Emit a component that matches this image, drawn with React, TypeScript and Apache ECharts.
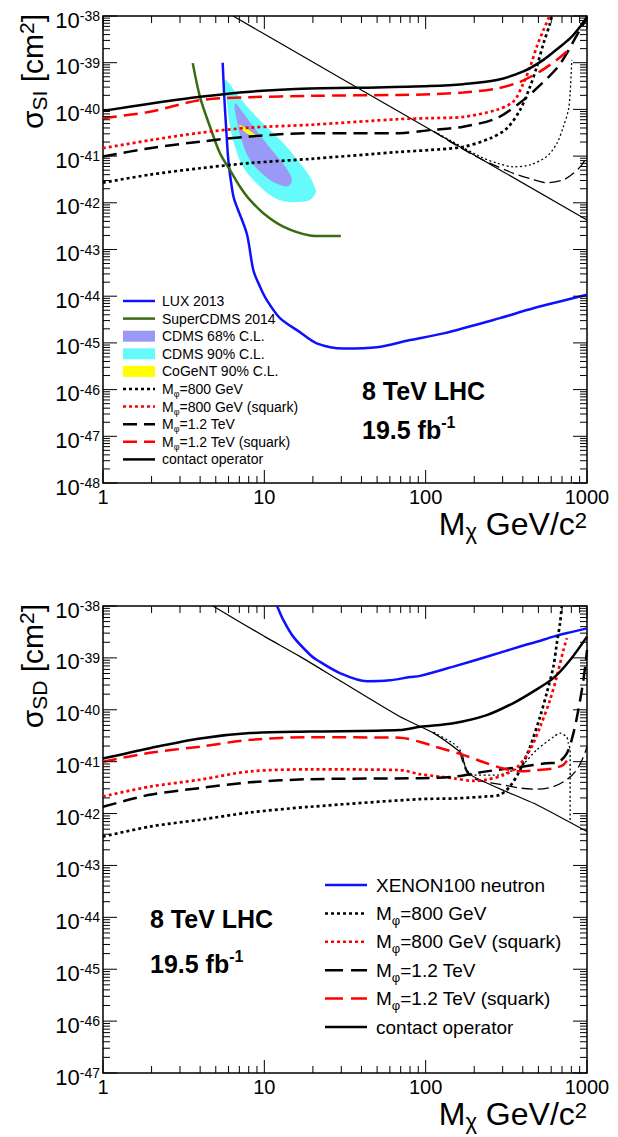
import { useEffect, useRef } from "react";
import * as echarts from "echarts";

type P = [number, number];

// ---------------- Spin-independent (top panel) ----------------
const SI_LUX: P[] = [[5.52,1.0e-39],[5.63,2.2e-40],[5.79,4.3e-41],[5.98,8.3e-42],[6.28,2.2e-42],[6.52,1.15e-42],[7.78,2.2e-43],[8.55,3.6e-44],[9.4,1.6e-44],[10.35,8.3e-45],[12.5,3.4e-45],[16.6,1.7e-45],[21.1,9.8e-46],[30.9,7.6e-46],[49.8,8.1e-46],[80,1.15e-45],[129,1.6e-45],[289,3.4e-45],[465,5.5e-45],[1000,1.07e-44]];
const SI_SCDMS: P[] = [[3.6,9.8e-40],[3.99,1.86e-40],[4.6,4.3e-41],[5.31,1.15e-41],[6.13,5.0e-42],[7.07,2.2e-42],[7.96,1.26e-42],[9.86,6.0e-43],[13.1,3.1e-43],[19.2,2.0e-43],[22.2,1.95e-43],[29.8,1.95e-43]];
const SI_CDMS90: P[] = [[5.71,4.3e-40],[5.85,1.58e-40],[6.13,4.3e-41],[6.58,1.58e-41],[7.38,5.9e-42],[8.97,2.6e-42],[11.3,1.35e-42],[13.8,1.05e-42],[16.6,1.05e-42],[19.2,1.15e-42],[20.9,1.7e-42],[20.6,2.1e-42],[19.2,3.55e-42],[16.6,7.1e-42],[13.1,1.9e-41],[10.3,4.3e-41],[8.15,9.8e-41],[6.74,2.2e-40]];
const SI_CDMS68: P[] = [[6.58,1.35e-40],[6.74,5.9e-41],[7.24,2.2e-41],[8.15,8.3e-42],[9.86,4.0e-42],[11.9,2.6e-42],[14.1,2.3e-42],[14.8,3.1e-42],[14.1,4.7e-42],[12.5,8.3e-42],[10.3,1.86e-41],[8.55,4.3e-41],[7.41,8.3e-41]];
const SI_COGENT: P[] = [[7.0,4.7e-41],[7.41,4.3e-41],[8.15,3.5e-41],[8.97,2.7e-41],[9.05,2.45e-41],[8.15,2.8e-41],[7.41,3.5e-41],[7.07,4.1e-41]];
const SI_CONTACT: P[] = [[1,9.3e-41],[1.95,1.32e-40],[4.0,1.86e-40],[8.15,2.4e-40],[19.2,2.8e-40],[50,2.95e-40],[106,3.16e-40],[171,3.47e-40],[276,4.27e-40],[403,6.5e-40],[537,1.15e-39],[681,2.2e-39],[785,3.3e-39],[906,5.9e-39],[1000,9.5e-39]];
const SI_M12_SQ: P[] = [[1,6.5e-41],[1.95,8.9e-41],[4.0,1.58e-40],[8.15,1.82e-40],[19.2,1.95e-40],[69,2.04e-40],[106,2.1e-40],[171,2.3e-40],[276,2.8e-40],[385,3.9e-40],[512,6.5e-40],[650,1.15e-39],[750,1.74e-39]];
const SI_M800_SQ: P[] = [[1,1.48e-41],[1.95,2.19e-41],[4.0,3.16e-41],[8.15,4.07e-41],[19.2,4.68e-41],[69,6.2e-41],[106,6.5e-41],[171,6.9e-41],[276,9.8e-41],[350,1.48e-40],[403,3.6e-40],[444,8.1e-40],[488,2.19e-39],[537,5.0e-39],[586,1.0e-38]];
const SI_M12: P[] = [[1,9.8e-42],[1.95,1.48e-41],[4.0,2.04e-41],[8.15,2.63e-41],[19.2,3.1e-41],[69,3.1e-41],[106,3.6e-41],[171,4.27e-41],[276,6.5e-41],[403,1.58e-40],[512,3.3e-40],[650,7.6e-40],[750,1.58e-39],[850,3.5e-39],[1000,9.0e-39]];
const SI_M800: P[] = [[1,2.7e-42],[1.95,4.0e-42],[4.0,5.5e-42],[8.15,7.1e-42],[19.2,8.7e-42],[69,1.23e-41],[106,1.35e-41],[171,1.58e-41],[251,2.4e-41],[318,3.9e-41],[385,9.8e-41],[444,3.1e-40],[488,8.1e-40],[537,2.57e-39],[590,6.9e-39],[605,9.8e-39]];
const SI_CONTACT_THIN: P[] = [[6.4,1.0e-38],[10,4.1e-39],[30,4.6e-40],[100,4.2e-41],[300,4.7e-42],[1000,4.3e-43]];
const SI_M800_THIN: P[] = [[112,3.4e-41],[141.6,2.19e-41],[217,9.8e-42],[276,7.1e-42],[350,5.9e-42],[444,6.5e-42],[563,9.8e-42],[650,1.86e-41],[714,4.27e-41],[767,9.8e-41],[786,2.19e-40],[805,1.15e-39]];
const SI_M12_THIN: P[] = [[112,3.4e-41],[141.6,2.04e-41],[217,8.9e-42],[350,4.27e-42],[444,3.3e-42],[563,2.7e-42],[714,3.1e-42],[824,4.27e-42],[929,6.5e-42],[1000,9.8e-42]];

// ---------------- Spin-dependent (bottom panel) ----------------
const SD_XENON: P[] = [[12,1.0e-38],[13.1,5.4e-39],[15.1,2.57e-39],[19.2,1.15e-39],[21.2,9.1e-40],[29.4,5.1e-40],[43.2,3.55e-40],[60,3.7e-40],[80,4.27e-40],[92.3,4.5e-40],[148.5,6.8e-40],[239,1.05e-39],[385,1.66e-39],[488,2.04e-39],[619,2.57e-39],[786,3.1e-39],[1000,3.7e-39]];
const SD_CONTACT: P[] = [[1,1.15e-41],[1.95,1.82e-41],[4.0,2.8e-41],[8.15,3.55e-41],[19.2,3.8e-41],[69,4.07e-41],[92.3,4.7e-41],[148.5,5.5e-41],[239,7.9e-41],[350,1.35e-40],[463,2.24e-40],[619,4.07e-40],[786,9.1e-40],[1000,2.57e-39]];
const SD_M12_SQ: P[] = [[1,1.0e-41],[1.95,1.48e-41],[4.0,1.95e-41],[8.15,2.63e-41],[19.2,2.95e-41],[69,2.9e-41],[92.3,2.4e-41],[118,1.9e-41],[171,1.35e-41],[239,9.3e-42],[303,7.4e-42],[385,6.5e-42],[488,6.9e-42],[619,7.4e-42],[714,8.7e-42],[750,1.05e-41]];
const SD_M800_SQ: P[] = [[1,2.14e-42],[1.95,3.3e-42],[4.0,4.5e-42],[8.15,6.5e-42],[19.2,7.1e-42],[69,6.9e-42],[92.3,5.75e-42],[148.5,4.8e-42],[197,4.27e-42],[239,4.5e-42],[303,5.5e-42],[370,7.9e-42],[444,1.7e-41],[512,4.7e-41],[590,1.55e-40],[650,4.4e-40],[714,1.41e-39],[750,2.4e-39]];
const SD_M12: P[] = [[1,1.35e-42],[1.95,2.3e-42],[4.0,3.1e-42],[8.15,4.0e-42],[19.2,4.6e-42],[92.3,4.8e-42],[148.5,5.1e-42],[239,6.5e-42],[385,7.9e-42],[563,9.3e-42],[650,9.5e-42],[750,1.45e-41],[824,3.55e-41],[884,1.0e-40],[929,2.4e-40],[975,6.8e-40],[1000,1.41e-39]];
const SD_M800: P[] = [[1,3.6e-43],[1.95,5.6e-43],[4.0,7.6e-43],[8.15,1.05e-42],[19.2,1.35e-42],[92.3,1.9e-42],[148.5,1.95e-42],[239,2.14e-42],[289,2.3e-42],[332,3.3e-42],[385,6.9e-42],[444,1.95e-41],[512,7.4e-41],[563,2.1e-40],[619,6.8e-40],[650,1.9e-39],[681,4.7e-39],[697,9.8e-39]];
const SD_CONTACT_THIN: P[] = [[4.8,1.0e-38],[10,2.6e-39],[16.6,1.07e-39],[30,3.5e-40],[69,7.4e-41],[112,3.55e-41],[163,1.55e-41],[170,1.26e-41],[173,9.3e-42],[180,6.9e-42],[188,5.75e-42],[207,4.8e-42],[303,2.8e-42],[488,1.48e-42],[1000,4.5e-43]];
const SD_M800_THIN: P[] = [[112,3.7e-41],[148.5,2.24e-41],[163,1.7e-41],[180,6.9e-42],[198,5.5e-42],[276,5.5e-42],[385,7.9e-42],[488,1.7e-41],[619,3.0e-41],[681,3.55e-41],[749,3.0e-41],[767,2.24e-41],[786,1.7e-41],[786,7.2e-43]];
const SD_M12_THIN: P[] = [[163,1.55e-41],[180,6.3e-42],[207,4.5e-42],[303,3.55e-42],[385,3.1e-42],[488,2.95e-42],[619,3.3e-42],[749,4.5e-42],[862,6.9e-42],[952,1.26e-41],[1000,1.95e-41]];

// axis ranges
const X_RANGE: P = [1, 1000];
const SI_Y_RANGE: P = [1e-48, 1e-38];
const SD_Y_RANGE: P = [1e-47, 1e-38];

const FONT = "'Liberation Sans', Arial, Helvetica, sans-serif";
const BLUE = "#1010ff";
const GREEN = "#3b6b10";
const RED = "#ff0000";
const CYAN = "#66fbfb";
const PURPLE = "#9a9af6";
const YELLOW = "#ffff00";

const DOT = [3, 3];
const DASH = [14, 7];
const TDOT = [2, 2.5];
const TDASH = [11, 5];

function buildTicks(yr: P) {
  const out: number[][] = [];
  for (let d = 0; d < 3; d++) {
    for (let m = 1; m <= 9; m++) out.push([m * Math.pow(10, d), yr[0], m === 1 ? 0 : 1]);
  }
  out.push([1000, yr[0], 0]);
  const e0 = Math.round(Math.log10(yr[0]));
  const e1 = Math.round(Math.log10(yr[1]));
  for (let e = e0; e < e1; e++) {
    for (let m = 1; m <= 9; m++) out.push([1, m * Math.pow(10, e), m === 1 ? 2 : 3]);
  }
  out.push([1, yr[1], 2]);
  return out;
}

const tickRender = (params: any, api: any) => {
  const cs = params.coordSys;
  const kind = api.value(2);
  const pt = api.coord([api.value(0), api.value(1)]);
  const st = { stroke: "#000", lineWidth: 1 };
  const left = cs.x, right = cs.x + cs.width, top = cs.y, bottom = cs.y + cs.height;
  const children: any[] = [];
  if (kind <= 1) {
    const len = kind === 0 ? 13 : 7;
    const x = pt[0];
    children.push({ type: "line", shape: { x1: x, y1: bottom, x2: x, y2: bottom - len }, style: st });
    children.push({ type: "line", shape: { x1: x, y1: top, x2: x, y2: top + len }, style: st });
    if (kind === 0) {
      children.push({
        type: "text", x, y: bottom + 14,
        style: { text: String(Math.round(api.value(0))), align: "center", verticalAlign: "middle", fontSize: 20, fontFamily: FONT, fill: "#000" },
      });
    }
  } else {
    const len = kind === 2 ? 14 : 7;
    const y = pt[1];
    children.push({ type: "line", shape: { x1: left, y1: y, x2: left + len, y2: y }, style: st });
    children.push({ type: "line", shape: { x1: right, y1: y, x2: right - len, y2: y }, style: st });
    if (kind === 2) {
      const ex = Math.round(Math.log10(api.value(1)));
      children.push({
        type: "text", x: left - 3, y: y + 4,
        style: {
          text: `{b|10}{s|${ex}}`, align: "right", verticalAlign: "middle", fill: "#000",
          rich: {
            b: { fontSize: 22, lineHeight: 22, fontFamily: FONT, fill: "#000" },
            s: { fontSize: 14, lineHeight: 14, padding: [0, 0, 8, 0], fontFamily: FONT, fill: "#000" },
          },
        },
      });
    }
  }
  return { type: "group", children };
};

function tickSeries(gi: number, yr: P) {
  return { type: "custom", xAxisIndex: gi, yAxisIndex: gi, data: buildTicks(yr), renderItem: tickRender, silent: true, z: 10, clip: false };
}

function polySeries(gi: number, data: P[], color: string, z: number) {
  return {
    type: "custom", xAxisIndex: gi, yAxisIndex: gi, data, silent: true, z, clip: true,
    renderItem: (params: any, api: any) => {
      if (params.dataIndex !== 0) return null;
      const pts = data.map((p) => api.coord(p));
      return { type: "polygon", shape: { points: pts, smooth: 0.4 }, style: { fill: color, stroke: "none" } };
    },
  };
}

function lineSeries(gi: number, data: P[], color: string, width: number, dash: any, smooth = 0.3, z = 3) {
  return {
    type: "line", xAxisIndex: gi, yAxisIndex: gi, data, showSymbol: false, symbol: "none", smooth, silent: true, z, clip: true,
    lineStyle: { color, width, type: dash, cap: "butt" },
  };
}

function richLegend(fs: number, H: number, sfs: number, sp: number) {
  return {
    m: { fontSize: fs, lineHeight: H, fontFamily: FONT, fill: "#000" },
    s: { fontSize: sfs, lineHeight: sfs, padding: [sp, 0, 0, 0], fontFamily: FONT, fill: "#000" },
  };
}

const SI_LEG = [
  { t: "{m|LUX 2013}", k: "line", c: BLUE, w: 2.5, d: null },
  { t: "{m|SuperCDMS 2014}", k: "line", c: GREEN, w: 2.5, d: null },
  { t: "{m|CDMS 68% C.L.}", k: "box", c: PURPLE },
  { t: "{m|CDMS 90% C.L.}", k: "box", c: CYAN },
  { t: "{m|CoGeNT 90% C.L.}", k: "box", c: YELLOW },
  { t: "{m|M}{s|φ}{m|=800 GeV}", k: "line", c: "#000", w: 2.5, d: DOT },
  { t: "{m|M}{s|φ}{m|=800 GeV (squark)}", k: "line", c: RED, w: 2.5, d: DOT },
  { t: "{m|M}{s|φ}{m|=1.2 TeV}", k: "line", c: "#000", w: 2.5, d: DASH },
  { t: "{m|M}{s|φ}{m|=1.2 TeV (squark)}", k: "line", c: RED, w: 2.5, d: DASH },
  { t: "{m|contact operator}", k: "line", c: "#000", w: 2.5, d: null },
];
const SD_LEG = [
  { t: "{m|XENON100 neutron}", k: "line", c: BLUE, w: 2.5, d: null },
  { t: "{m|M}{s|φ}{m|=800 GeV}", k: "line", c: "#000", w: 2.5, d: DOT },
  { t: "{m|M}{s|φ}{m|=800 GeV (squark)}", k: "line", c: RED, w: 2.5, d: DOT },
  { t: "{m|M}{s|φ}{m|=1.2 TeV}", k: "line", c: "#000", w: 2.5, d: [18, 8] },
  { t: "{m|M}{s|φ}{m|=1.2 TeV (squark)}", k: "line", c: RED, w: 2.5, d: [18, 8] },
  { t: "{m|contact operator}", k: "line", c: "#000", w: 2.5, d: null },
];

function legendGraphics(items: any[], x0: number, x1: number, tx: number, y0: number, dy: number, fs: number, H: number, sfs: number, sp: number, boxH: number) {
  const out: any[] = [];
  items.forEach((it, i) => {
    const y = y0 + i * dy;
    if (it.k === "box") {
      out.push({ type: "rect", shape: { x: x0, y: y - boxH / 2, width: x1 - x0, height: boxH }, style: { fill: it.c } });
    } else {
      out.push({ type: "line", shape: { x1: x0, y1: y, x2: x1, y2: y }, style: { stroke: it.c, lineWidth: it.w, lineDash: it.d || undefined } });
    }
    out.push({ type: "text", x: tx, y, style: { text: it.t, align: "left", verticalAlign: "middle", rich: richLegend(fs, H, sfs, sp) } });
  });
  return out;
}

function lhcText(x: number, y1: number, y2: number) {
  return [
    { type: "text", x, y: y1, style: { text: "8 TeV LHC", align: "left", verticalAlign: "middle", fontSize: 25, fontWeight: "bold", fontFamily: FONT, fill: "#000" } },
    {
      type: "text", x, y: y2,
      style: {
        text: "{b|19.5 fb}{s|-1}", align: "left", verticalAlign: "middle",
        rich: {
          b: { fontSize: 25, fontWeight: "bold", lineHeight: 31, fontFamily: FONT, fill: "#000" },
          s: { fontSize: 16, fontWeight: "bold", lineHeight: 16, padding: [0, 0, 15, 0], fontFamily: FONT, fill: "#000" },
        },
      },
    },
  ];
}

const TITLE_RICH = {
  m: { fontSize: 30, lineHeight: 30, fontFamily: FONT, fill: "#000" },
  s: { fontSize: 21, lineHeight: 14, padding: [15, 0, 1, 0], fontFamily: FONT, fill: "#000" },
  u: { fontSize: 21, lineHeight: 14, padding: [2, 0, 14, 0], fontFamily: FONT, fill: "#000" },
};
const XTITLE_RICH = {
  m: { fontSize: 32, lineHeight: 30, fontFamily: FONT, fill: "#000" },
  s: { fontSize: 22, lineHeight: 14, padding: [15, 0, 1, 0], fontFamily: FONT, fill: "#000" },
  u: { fontSize: 22, lineHeight: 14, padding: [4, 0, 12, 0], fontFamily: FONT, fill: "#000" },
};

function titles(top: number, bottom: number, sub: string) {
  return [
    { type: "text", x: 32, y: top - 2, rotation: Math.PI / 2, style: { text: `{m|σ}{s|${sub}}{m| [cm}{u|2}{m|]}`, align: "right", verticalAlign: "middle", rich: TITLE_RICH } },
    { type: "text", x: 587, y: bottom + 41, style: { text: "{m|M}{s|χ}{m| GeV/c}{u|2}", align: "right", verticalAlign: "middle", rich: XTITLE_RICH } },
  ];
}

function buildOption() {
  const axisCommon = {
    type: "log", logBase: 10,
    axisLine: { show: false }, axisTick: { show: false }, axisLabel: { show: false },
    splitLine: { show: false }, minorTick: { show: false }, minorSplitLine: { show: false },
  };
  return {
    animation: false,
    backgroundColor: "#fff",
    grid: [
      { left: 103, top: 16, width: 484, height: 467, show: true, borderColor: "#000", borderWidth: 1.5, backgroundColor: "transparent" },
      { left: 103, top: 606, width: 484, height: 467, show: true, borderColor: "#000", borderWidth: 1.5, backgroundColor: "transparent" },
    ],
    xAxis: [
      { ...axisCommon, gridIndex: 0, min: X_RANGE[0], max: X_RANGE[1] },
      { ...axisCommon, gridIndex: 1, min: X_RANGE[0], max: X_RANGE[1] },
    ],
    yAxis: [
      { ...axisCommon, gridIndex: 0, min: SI_Y_RANGE[0], max: SI_Y_RANGE[1] },
      { ...axisCommon, gridIndex: 1, min: SD_Y_RANGE[0], max: SD_Y_RANGE[1] },
    ],
    series: [
      // top
      polySeries(0, SI_CDMS90, CYAN, 1),
      polySeries(0, SI_CDMS68, PURPLE, 1),
      polySeries(0, SI_COGENT, YELLOW, 1),
      lineSeries(0, SI_CONTACT_THIN, "#000", 1.2, "solid", 0),
      lineSeries(0, SI_M800_THIN, "#000", 1.3, TDOT, 0.3),
      lineSeries(0, SI_M12_THIN, "#000", 1.3, TDASH, 0.3),
      lineSeries(0, SI_LUX, BLUE, 2.5, "solid", 0.3),
      lineSeries(0, SI_SCDMS, GREEN, 2.5, "solid", 0.3),
      lineSeries(0, SI_M800, "#000", 2.7, DOT, 0.3),
      lineSeries(0, SI_M800_SQ, RED, 2.7, DOT, 0.3),
      lineSeries(0, SI_M12, "#000", 2.5, DASH, 0.3),
      lineSeries(0, SI_M12_SQ, RED, 2.5, DASH, 0.3),
      lineSeries(0, SI_CONTACT, "#000", 2.5, "solid", 0.3),
      tickSeries(0, SI_Y_RANGE),
      // bottom
      lineSeries(1, SD_CONTACT_THIN, "#000", 1.2, "solid", 0.2),
      lineSeries(1, SD_M800_THIN, "#000", 1.3, TDOT, 0.2),
      lineSeries(1, SD_M12_THIN, "#000", 1.3, TDASH, 0.3),
      lineSeries(1, SD_XENON, BLUE, 2.5, "solid", 0.3),
      lineSeries(1, SD_M800, "#000", 2.7, DOT, 0.3),
      lineSeries(1, SD_M800_SQ, RED, 2.7, DOT, 0.3),
      lineSeries(1, SD_M12, "#000", 2.5, DASH, 0.3),
      lineSeries(1, SD_M12_SQ, RED, 2.5, DASH, 0.3),
      lineSeries(1, SD_CONTACT, "#000", 2.5, "solid", 0.3),
      tickSeries(1, SD_Y_RANGE),
    ],
    graphic: [
      ...legendGraphics(SI_LEG, 123, 155, 162, 301, 17.6, 14, 19, 9, 10, 11),
      ...legendGraphics(SD_LEG, 325, 367, 376, 885, 28.4, 19, 27, 13, 14, 12),
      ...lhcText(362, 391, 430),
      ...lhcText(150, 919, 964),
      ...titles(16, 483, "SI"),
      ...titles(606, 1073, "SD"),
    ],
  };
}

export default function App() {
  const ref = useRef<HTMLDivElement>(null);
  useEffect(() => {
    if (!ref.current) return;
    const chart = echarts.init(ref.current, undefined, { renderer: "svg" });
    chart.setOption(buildOption() as any);
    return () => chart.dispose();
  }, []);
  return <div ref={ref} style={{ position: "absolute", left: 0, top: 0, width: 618, height: 1137, background: "#fff" }} />;
}
